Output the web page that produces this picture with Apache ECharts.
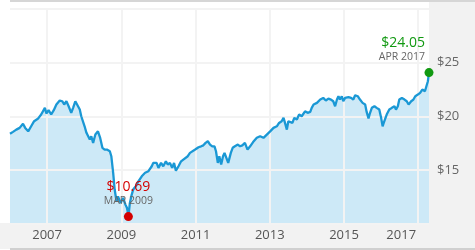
<!DOCTYPE html>
<html><head><meta charset="utf-8">
<script src="https://cdn.jsdelivr.net/npm/echarts@6/dist/echarts.min.js"></script>
<style>html,body{margin:0;padding:0;background:#fff}#c{width:475px;height:250px}</style>
</head><body><div id="c"></div>
<script>
// Time (decimal years) and price
var years = [2006.00,2006.08,2006.17,2006.26,2006.35,2006.41,2006.49,2006.57,2006.65,2006.75,2006.84,2006.94,2006.98,
2007.04,2007.11,2007.18,2007.25,2007.34,2007.41,2007.46,2007.52,2007.58,2007.65,2007.70,2007.76,2007.81,2007.88,2007.92,2007.97,
2008.01,2008.06,2008.10,2008.15,2008.19,2008.24,2008.30,2008.37,2008.43,2008.49,2008.55,2008.61,2008.69,2008.73,2008.78,2008.82,2008.87,2008.91,2008.98,
2009.05,2009.11,2009.15,2009.17,2009.19,2009.23,2009.28,2009.32,2009.39,2009.46,2009.55,2009.64,2009.73,2009.77,2009.82,2009.86,2009.95,
2010.00,2010.07,2010.13,2010.20,2010.25,2010.31,2010.37,2010.42,2010.47,2010.54,2010.61,2010.67,2010.79,2010.85,2010.90,2010.99,
2011.08,2011.15,2011.21,2011.27,2011.33,2011.39,2011.45,2011.51,2011.55,2011.60,2011.64,2011.69,2011.74,2011.78,2011.83,2011.88,2011.95,
2012.00,2012.06,2012.14,2012.20,2012.26,2012.33,2012.40,2012.47,2012.55,2012.65,2012.74,2012.83,2012.92,
2013.01,2013.10,2013.19,2013.25,2013.32,2013.37,2013.41,2013.46,2013.50,2013.55,2013.61,2013.66,2013.73,2013.79,2013.86,2013.95,
2014.02,2014.09,2014.13,2014.18,2014.27,2014.36,2014.44,2014.51,2014.58,2014.65,2014.71,2014.76,2014.81,2014.85,2014.89,2014.94,2014.98,
2015.03,2015.07,2015.12,2015.19,2015.25,2015.30,2015.37,2015.43,2015.50,2015.57,2015.61,2015.66,2015.70,2015.75,2015.82,2015.88,2015.95,
2016.00,2016.04,2016.07,2016.11,2016.15,2016.22,2016.29,2016.36,2016.40,2016.45,2016.49,2016.56,2016.63,2016.69,2016.74,2016.81,2016.87,2016.92,2016.99,
2017.05,2017.11,2017.18,2017.23,2017.26,2017.29];
var prices = [18.37,18.55,18.76,18.92,19.30,18.92,18.60,19.07,19.54,19.76,20.16,20.78,20.25,
20.56,20.16,20.56,21.09,21.46,21.39,21.09,21.39,20.93,20.32,20.78,21.39,21.24,20.62,20.00,19.85,
19.07,18.46,18.30,17.84,18.14,17.53,18.30,18.60,17.99,17.07,16.91,16.91,16.75,16.29,14.75,13.20,12.11,12.57,11.96,
12.42,11.80,11.50,11.18,10.69,11.96,12.73,13.20,13.50,13.96,14.43,14.75,14.90,15.05,15.36,15.67,15.67,
15.21,15.67,15.36,15.82,15.52,15.67,15.21,15.67,14.95,15.36,15.82,15.98,16.29,16.60,16.75,16.91,
17.12,17.21,17.30,17.53,17.68,17.37,17.21,17.21,16.75,15.67,16.29,15.52,16.29,16.60,16.14,15.67,16.60,
17.07,17.21,17.37,17.21,17.30,17.53,16.90,17.21,17.60,18.00,18.15,18.00,18.30,
18.60,18.92,19.07,19.38,19.54,19.85,19.38,18.76,19.54,19.70,19.38,19.85,19.70,20.16,20.00,20.46,
20.32,20.40,20.78,21.09,21.24,21.55,21.70,21.46,21.64,21.55,21.39,20.93,21.55,21.86,21.55,21.86,21.39,
21.70,21.55,21.77,21.70,21.55,21.95,21.86,21.55,21.24,21.09,20.40,19.80,20.30,20.78,20.93,20.78,20.62,
19.85,19.07,19.38,19.54,20.16,20.62,20.78,20.93,20.62,20.93,21.55,21.70,21.55,21.39,21.09,21.39,21.55,21.86,22.01,
22.17,22.48,22.32,22.48,23.25,24.05];
var xTicks = [2007, 2009, 2011, 2013, 2015, 2017];
var yTicks = [15, 20, 25];
var lowPoint = {year: 2009.19, price: 10.69, label: 'MAR 2009'};
var highPoint = {year: 2017.29, price: 24.05, label: 'APR 2017'};

var FONT = '"Open Sans", "Noto Sans", sans-serif';
var pts = years.map(function (y, i) { return [y, prices[i]]; });
var chart = echarts.init(document.getElementById('c'), null, {renderer: 'canvas'});
chart.setOption({
  animation: false,
  backgroundColor: '#ffffff',
  graphic: [
    {type: 'rect', z: -10, silent: true, shape: {x: 429, y: 0, width: 46, height: 250}, style: {fill: '#f2f2f2'}},
    {type: 'rect', z: -10, silent: true, shape: {x: 0, y: 223, width: 429, height: 26}, style: {fill: '#f2f2f2'}},
    {type: 'rect', z: -9, silent: true, shape: {x: 10, y: 0, width: 465, height: 2}, style: {fill: '#d6d6d6'}},
    {type: 'rect', z: -9, silent: true, shape: {x: 10, y: 248, width: 465, height: 2}, style: {fill: '#d0d0d0'}}
  ],
  grid: {left: 10, right: 46, top: 8.5, bottom: 26, containLabel: false},
  xAxis: {
    type: 'value', min: 2006, max: highPoint.year, z: 2,
    axisLine: {show: false},
    axisTick: {show: false, customValues: xTicks},
    splitLine: {show: true, lineStyle: {color: '#f3f3f3', width: 2}},
    axisLabel: {
      customValues: xTicks, margin: 5, color: '#555', fontSize: 13, fontFamily: FONT,
      formatter: function (v) {
        return v === xTicks[xTicks.length - 1] ? '{r|' + v + '}' : String(v);
      },
      rich: {r: {color: '#555', fontSize: 13, fontFamily: FONT, padding: [0, 34, 0, 0]}}
    }
  },
  yAxis: {
    type: 'value', position: 'right', min: 10, max: 30, interval: 5, z: 2,
    axisLine: {show: false}, axisTick: {show: false},
    splitLine: {show: true, lineStyle: {color: '#f3f3f3', width: 2}},
    axisLabel: {
      margin: 8, color: '#666', fontSize: 13, fontFamily: FONT,
      formatter: function (v) { return yTicks.indexOf(v) >= 0 ? '$' + v : ''; }
    }
  },
  series: [
    {
      type: 'line', data: pts, z: 1, symbol: 'none', silent: true,
      lineStyle: {width: 0, opacity: 0},
      areaStyle: {color: '#cde9f7', opacity: 1}
    },
    {
      type: 'line', data: pts, z: 3, symbol: 'none', silent: true,
      lineStyle: {color: '#1a98d5', width: 2.3},
      markPoint: {
        symbol: 'circle', symbolSize: 9,
        data: [
          {coord: [lowPoint.year, lowPoint.price], value: lowPoint.price,
           itemStyle: {color: '#d40000'},
           label: {show: true, position: 'top', distance: 5, align: 'center',
             formatter: '{v|$' + lowPoint.price.toFixed(2) + '}\n{d|' + lowPoint.label + '}',
             rich: {v: {color: '#d40000', fontSize: 14, lineHeight: 15, fontFamily: FONT, align: 'center'},
                    d: {color: '#666', fontSize: 10.5, lineHeight: 13, fontFamily: FONT, align: 'center'}}}},
          {coord: [highPoint.year, highPoint.price], value: highPoint.price,
           itemStyle: {color: '#119911'},
           label: {show: true, position: 'top', distance: 5, align: 'right', offset: [-4, 0],
             formatter: '{v|$' + highPoint.price.toFixed(2) + '}\n{d|' + highPoint.label + '}',
             rich: {v: {color: '#119911', fontSize: 14, lineHeight: 15, fontFamily: FONT, align: 'right', fontWeight: 500},
                    d: {color: '#666', fontSize: 10.5, lineHeight: 13, fontFamily: FONT, align: 'right'}}}}
        ]
      }
    }
  ]
});
</script></body></html>
